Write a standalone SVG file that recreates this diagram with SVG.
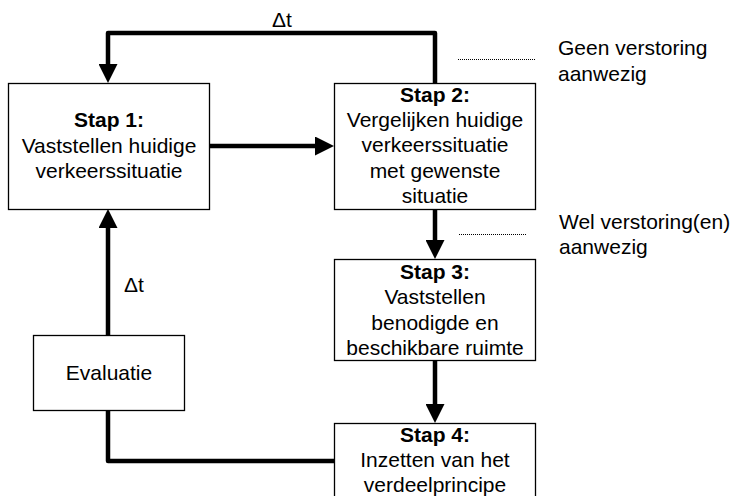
<svg xmlns="http://www.w3.org/2000/svg" width="732" height="496" viewBox="0 0 732 496">
<style>
text { font-family: "Liberation Sans", Arial, sans-serif; font-size: 21px; fill: #000; }
.c { text-anchor: middle; }
.b { font-weight: bold; }
.box { fill: #fff; stroke: #000; stroke-width: 1.3; }
.conn { fill: none; stroke: #000; stroke-width: 4.5; stroke-linejoin: round; stroke-linecap: round; }
.dot { fill: none; stroke: #000; stroke-width: 1; stroke-dasharray: 1 1; }
</style>
<defs>
<marker id="ah" markerUnits="userSpaceOnUse" markerWidth="19" markerHeight="19" viewBox="0 0 19 19" refX="9" refY="9.5" orient="auto">
<path d="M0,0 L19,9.5 L0,19 Z" fill="#000"/>
</marker>
</defs>
<g id="connectors">
<path class="conn" d="M435,83 V33 H108 V73" marker-end="url(#ah)"/>
<path class="conn" d="M209,146 H324" marker-end="url(#ah)"/>
<path class="conn" d="M435,210 V249" marker-end="url(#ah)"/>
<path class="conn" d="M435,360 V413" marker-end="url(#ah)"/>
<path class="conn" d="M335,461 H108 V410"/>
<path class="conn" d="M108,335 V219" marker-end="url(#ah)"/>
<path class="dot" d="M458,59.5 H535"/>
<path class="dot" d="M459,234.5 H526"/>
</g>
<g id="stap1">
<rect class="box" x="8.5" y="83.5" width="201" height="126"/>
<text class="c b" x="109" y="127">Stap 1:</text>
<text class="c" x="109" y="152.5">Vaststellen huidige</text>
<text class="c" x="109" y="178">verkeerssituatie</text>
</g>
<g id="stap2">
<rect class="box" x="334.5" y="83.5" width="201" height="126"/>
<text class="c b" x="435" y="101.5">Stap 2:</text>
<text class="c" x="435" y="126.8">Vergelijken huidige</text>
<text class="c" x="435" y="152">verkeerssituatie</text>
<text class="c" x="435" y="177.5">met gewenste</text>
<text class="c" x="435" y="203">situatie</text>
</g>
<g id="stap3">
<rect class="box" x="334.5" y="259.5" width="201" height="101"/>
<text class="c b" x="435" y="278.5">Stap 3:</text>
<text class="c" x="435" y="304">Vaststellen</text>
<text class="c" x="435" y="329.5">benodigde en</text>
<text class="c" x="435" y="355">beschikbare ruimte</text>
</g>
<g id="stap4">
<rect class="box" x="334.5" y="423.5" width="201" height="126"/>
<text class="c b" x="435" y="441.7">Stap 4:</text>
<text class="c" x="435" y="467">Inzetten van het</text>
<text class="c" x="435" y="492">verdeelprincipe</text>
</g>
<g id="evaluatie">
<rect class="box" x="33.5" y="335.5" width="151" height="75"/>
<text class="c" x="109" y="380">Evaluatie</text>
</g>
<g id="labels">
<text x="272" y="27">Δt</text>
<text x="124" y="292">Δt</text>
<text x="558" y="55">Geen verstoring</text>
<text x="558" y="80.5">aanwezig</text>
<text x="559" y="229">Wel verstoring(en)</text>
<text x="559" y="254">aanwezig</text>
</g>
</svg>
